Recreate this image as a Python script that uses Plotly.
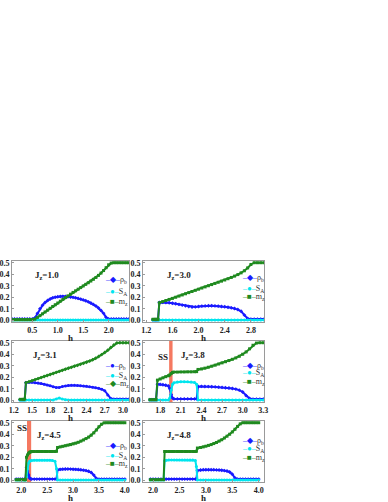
import plotly.graph_objects as go
from plotly.subplots import make_subplots

# ---- values ----
# panel 1: J_z = 1.0
h_1 = [0.10, 0.15, 0.20, 0.25, 0.30, 0.35, 0.40, 0.45, 0.50, 0.55, 0.60, 0.65, 0.70, 0.75, 0.80,
       0.85, 0.90, 0.95, 1.00, 1.05, 1.10, 1.15, 1.20, 1.25, 1.30, 1.35, 1.40, 1.45, 1.50, 1.55,
       1.60, 1.65, 1.70, 1.75, 1.80, 1.85, 1.90, 1.95, 2.00, 2.05, 2.10, 2.15, 2.20, 2.25, 2.30,
       2.35, 2.40]
rho_1 = [0.012, 0.012, 0.012, 0.012, 0.012, 0.012, 0.012, 0.012, 0.012, 0.02, 0.06, 0.10, 0.13,
         0.155, 0.172, 0.185, 0.195, 0.201, 0.205, 0.207, 0.208, 0.207, 0.205, 0.202, 0.199, 0.195,
         0.19, 0.184, 0.177, 0.169, 0.16, 0.15, 0.138, 0.124, 0.107, 0.086, 0.06, 0.025, 0.012,
         0.012, 0.012, 0.012, 0.012, 0.012, 0.012, 0.012, 0.012]
sa_1 = [0.003, 0.003, 0.003, 0.003, 0.003, 0.003, 0.003, 0.003, 0.003, 0.003, 0.003, 0.003, 0.003,
        0.003, 0.003, 0.003, 0.003, 0.003, 0.003, 0.003, 0.003, 0.003, 0.003, 0.003, 0.003, 0.003,
        0.003, 0.003, 0.003, 0.003, 0.003, 0.003, 0.003, 0.003, 0.003, 0.003, 0.003, 0.003, 0.003,
        0.003, 0.003, 0.003, 0.003, 0.003, 0.003, 0.003, 0.003]
mz_1 = [0.005, 0.005, 0.005, 0.005, 0.005, 0.005, 0.005, 0.005, 0.005, 0.01, 0.025, 0.04, 0.056,
        0.072, 0.088, 0.104, 0.12, 0.135, 0.15, 0.166, 0.182, 0.197, 0.212, 0.227, 0.242, 0.256,
        0.27, 0.284, 0.298, 0.312, 0.326, 0.341, 0.356, 0.372, 0.39, 0.41, 0.432, 0.457, 0.482,
        0.497, 0.5, 0.5, 0.5, 0.5, 0.5, 0.5, 0.5]

# panel 2: J_z = 3.0
h_2 = [1.30, 1.32, 1.34, 1.36, 1.38, 1.40, 1.45, 1.50, 1.55, 1.60, 1.65, 1.70, 1.75, 1.80, 1.85,
       1.90, 1.95, 2.00, 2.05, 2.10, 2.15, 2.20, 2.25, 2.30, 2.35, 2.40, 2.45, 2.50, 2.55, 2.60,
       2.65, 2.70, 2.75, 2.80, 2.85, 2.90, 2.95, 3.00]
rho_2 = [0.005, 0.005, 0.005, 0.005, 0.005, 0.155, 0.156, 0.155, 0.152, 0.148, 0.143, 0.138, 0.132,
         0.126, 0.12, 0.115, 0.116, 0.12, 0.123, 0.125, 0.126, 0.126, 0.125, 0.123, 0.12, 0.117,
         0.113, 0.108, 0.102, 0.093, 0.078, 0.045, 0.015, 0.01, 0.01, 0.01, 0.01, 0.01]
sa_2 = [0.003, 0.003, 0.003, 0.003, 0.003, 0.003, 0.003, 0.003, 0.003, 0.003, 0.003, 0.003, 0.003,
        0.003, 0.003, 0.003, 0.003, 0.003, 0.003, 0.003, 0.003, 0.003, 0.003, 0.003, 0.003, 0.003,
        0.003, 0.003, 0.003, 0.003, 0.003, 0.003, 0.003, 0.003, 0.003, 0.003, 0.003, 0.003]
mz_2 = [0.008, 0.008, 0.008, 0.008, 0.008, 0.152, 0.162, 0.172, 0.181, 0.19, 0.2, 0.21, 0.22,
        0.23, 0.24, 0.25, 0.26, 0.27, 0.28, 0.29, 0.3, 0.31, 0.32, 0.33, 0.34, 0.35, 0.361, 0.372,
        0.384, 0.397, 0.412, 0.43, 0.455, 0.485, 0.5, 0.5, 0.5, 0.5]

# panel 3: J_z = 3.1
h_3 = [1.30, 1.32, 1.34, 1.36, 1.38, 1.40, 1.45, 1.50, 1.55, 1.60, 1.65, 1.70, 1.75, 1.80, 1.85,
       1.90, 1.95, 2.00, 2.05, 2.10, 2.15, 2.20, 2.25, 2.30, 2.35, 2.40, 2.45, 2.50, 2.55, 2.60,
       2.65, 2.70, 2.75, 2.80, 2.85, 2.90, 2.95, 3.00, 3.05, 3.10]
rho_3 = [0.005, 0.005, 0.005, 0.005, 0.005, 0.155, 0.157, 0.156, 0.153, 0.15, 0.146, 0.14, 0.133,
         0.126, 0.118, 0.11, 0.112, 0.12, 0.125, 0.128, 0.13, 0.13, 0.128, 0.126, 0.124, 0.121,
         0.118, 0.114, 0.109, 0.104, 0.096, 0.083, 0.045, 0.015, 0.01, 0.01, 0.01, 0.01, 0.01, 0.01]
sa_3 = [0.003, 0.003, 0.003, 0.003, 0.003, 0.003, 0.003, 0.003, 0.003, 0.003, 0.003, 0.003, 0.003,
        0.003, 0.003, 0.012, 0.02, 0.01, 0.004, 0.003, 0.003, 0.003, 0.003, 0.003, 0.003, 0.003,
        0.003, 0.003, 0.003, 0.003, 0.003, 0.003, 0.003, 0.003, 0.003, 0.003, 0.003, 0.003, 0.003,
        0.003]
mz_3 = [0.008, 0.008, 0.008, 0.008, 0.008, 0.152, 0.161, 0.17, 0.179, 0.188, 0.197, 0.206, 0.215,
        0.224, 0.233, 0.242, 0.251, 0.26, 0.269, 0.278, 0.286, 0.295, 0.303, 0.312, 0.321, 0.33,
        0.34, 0.352, 0.365, 0.38, 0.397, 0.415, 0.435, 0.458, 0.48, 0.497, 0.5, 0.5, 0.5, 0.5]

# panel 4: J_z = 3.8
h_4 = [1.65, 1.68, 1.71, 1.74, 1.76, 1.80, 1.84, 1.88, 1.92, 1.94, 1.96, 1.98, 2.00, 2.05, 2.10,
       2.15, 2.20, 2.25, 2.30, 2.33, 2.35, 2.40, 2.45, 2.50, 2.55, 2.60, 2.65, 2.70, 2.75, 2.80,
       2.85, 2.90, 2.95, 3.00, 3.05, 3.10, 3.15, 3.20, 3.25, 3.30]
rho_4 = [0.005, 0.005, 0.005, 0.005, 0.14, 0.138, 0.135, 0.13, 0.124, 0.1, 0.05, 0.02, 0.012,
         0.012, 0.012, 0.012, 0.012, 0.012, 0.012, 0.012, 0.12, 0.121, 0.12, 0.119, 0.118, 0.116,
         0.114, 0.112, 0.109, 0.106, 0.102, 0.097, 0.088, 0.072, 0.04, 0.015, 0.01, 0.01, 0.01, 0.01]
sa_4 = [0.003, 0.003, 0.003, 0.003, 0.003, 0.003, 0.003, 0.003, 0.003, 0.02, 0.09, 0.14, 0.152,
        0.158, 0.16, 0.16, 0.16, 0.159, 0.155, 0.14, 0.003, 0.003, 0.003, 0.003, 0.003, 0.003,
        0.003, 0.003, 0.003, 0.003, 0.003, 0.003, 0.003, 0.003, 0.003, 0.003, 0.003, 0.003, 0.003,
        0.003]
mz_4 = [0.005, 0.005, 0.005, 0.005, 0.175, 0.185, 0.195, 0.205, 0.213, 0.22, 0.232, 0.242, 0.245,
        0.245, 0.246, 0.246, 0.247, 0.247, 0.248, 0.249, 0.268, 0.272, 0.279, 0.287, 0.296, 0.305,
        0.315, 0.325, 0.335, 0.345, 0.356, 0.368, 0.382, 0.4, 0.42, 0.447, 0.478, 0.497, 0.5, 0.5]

# panel 5: J_z = 4.5
h_5 = [1.90, 1.94, 1.98, 2.02, 2.06, 2.08, 2.10, 2.12, 2.14, 2.16, 2.18, 2.20, 2.25, 2.30, 2.35,
       2.40, 2.45, 2.50, 2.55, 2.60, 2.65, 2.68, 2.70, 2.75, 2.80, 2.85, 2.90, 2.95, 3.00, 3.05,
       3.10, 3.15, 3.20, 3.25, 3.30, 3.35, 3.40, 3.45, 3.50, 3.55, 3.60, 3.65, 3.70, 3.75, 3.80,
       3.85, 3.90, 3.95, 4.00]
rho_5 = [0.01, 0.01, 0.01, 0.01, 0.01, 0.01, 0.11, 0.08, 0.045, 0.02, 0.012, 0.01, 0.01, 0.01,
         0.01, 0.01, 0.01, 0.01, 0.01, 0.01, 0.01, 0.01, 0.092, 0.095, 0.097, 0.098, 0.098, 0.097,
         0.096, 0.095, 0.093, 0.091, 0.088, 0.084, 0.078, 0.068, 0.045, 0.015, 0.01, 0.01, 0.01,
         0.01, 0.01, 0.01, 0.01, 0.01, 0.01, 0.01, 0.01]
sa_5 = [0.003, 0.003, 0.003, 0.003, 0.003, 0.003, 0.03, 0.1, 0.15, 0.165, 0.17, 0.172, 0.174,
        0.175, 0.175, 0.175, 0.175, 0.175, 0.174, 0.172, 0.165, 0.1, 0.003, 0.003, 0.003, 0.003,
        0.003, 0.003, 0.003, 0.003, 0.003, 0.003, 0.003, 0.003, 0.003, 0.003, 0.003, 0.003, 0.003,
        0.003, 0.003, 0.003, 0.003, 0.003, 0.003, 0.003, 0.003, 0.003, 0.003]
mz_5 = [0.005, 0.005, 0.005, 0.005, 0.005, 0.005, 0.2, 0.22, 0.235, 0.243, 0.247, 0.25, 0.25,
        0.25, 0.25, 0.25, 0.25, 0.25, 0.25, 0.25, 0.25, 0.252, 0.285, 0.29, 0.295, 0.3, 0.305, 0.31,
        0.316, 0.322, 0.33, 0.34, 0.35, 0.362, 0.375, 0.392, 0.412, 0.437, 0.465, 0.487, 0.499,
        0.5, 0.5, 0.5, 0.5, 0.5, 0.5, 0.5, 0.5]

# panel 6: J_z = 4.8
h_6 = [1.95, 2.00, 2.05, 2.10, 2.15, 2.20, 2.22, 2.25, 2.30, 2.35, 2.40, 2.45, 2.50, 2.55, 2.60,
       2.65, 2.70, 2.75, 2.80, 2.82, 2.84, 2.90, 2.95, 3.00, 3.05, 3.10, 3.15, 3.20, 3.25, 3.30,
       3.35, 3.40, 3.45, 3.50, 3.55, 3.60, 3.65, 3.70, 3.75, 3.80, 3.85, 3.90, 3.95, 4.00]
rho_6 = [0.01, 0.01, 0.01, 0.01, 0.01, 0.01, 0.01, 0.01, 0.01, 0.01, 0.01, 0.01, 0.01, 0.01, 0.01,
         0.01, 0.01, 0.01, 0.01, 0.01, 0.085, 0.089, 0.091, 0.092, 0.092, 0.092, 0.091, 0.09,
         0.089, 0.087, 0.084, 0.08, 0.072, 0.052, 0.02, 0.01, 0.01, 0.01, 0.01, 0.01, 0.01, 0.01,
         0.01, 0.01]
sa_6 = [0.003, 0.003, 0.003, 0.003, 0.003, 0.003, 0.17, 0.175, 0.177, 0.177, 0.177, 0.177, 0.177,
        0.177, 0.177, 0.177, 0.177, 0.176, 0.172, 0.12, 0.003, 0.003, 0.003, 0.003, 0.003, 0.003,
        0.003, 0.003, 0.003, 0.003, 0.003, 0.003, 0.003, 0.003, 0.003, 0.003, 0.003, 0.003, 0.003,
        0.003, 0.003, 0.003, 0.003, 0.003]
mz_6 = [0.005, 0.005, 0.005, 0.005, 0.005, 0.005, 0.25, 0.25, 0.25, 0.25, 0.25, 0.25, 0.25, 0.25,
        0.25, 0.25, 0.25, 0.25, 0.25, 0.252, 0.28, 0.285, 0.29, 0.296, 0.303, 0.31, 0.319, 0.328,
        0.34, 0.352, 0.367, 0.383, 0.4, 0.42, 0.443, 0.468, 0.49, 0.5, 0.5, 0.5, 0.5, 0.5, 0.5, 0.5]

jz_values = ["1.0", "3.0", "3.1", "3.8", "4.5", "4.8"]
ss_band_4 = [1.93, 1.98]
ss_band_5 = [2.11, 2.19]
y_ticks = [0.0, 0.1, 0.2, 0.3, 0.4, 0.5]

# ---- styling ----
BLUE = "#1a1aff"
CYAN = "#00e5ee"
GREEN = "#1f8a1f"
SS_RED = "#f4694f"
FRAME = "#9a9a9a"
INK = "#222222"
SERIF = "Liberation Serif"

W, H = 388, 502
col_px = [(12, 129), (143, 264)]
row_px = [(261, 322), (341, 402), (421, 482)]

panels = [
    dict(h=h_1, rho=rho_1, sa=sa_1, mz=mz_1, xr=[0.1, 2.4], ticks=[0.5, 1.0, 1.5, 2.0],
         sym=("diamond", "circle", "square"), jz_at=(0.78, 0.385), key_x=0.78, key_y=(0.35, 0.25, 0.155)),
    dict(h=h_2, rho=rho_2, sa=sa_2, mz=mz_2, xr=[1.15, 3.0], ticks=[1.2, 1.6, 2.0, 2.4, 2.8],
         sym=("diamond", "circle", "square"), jz_at=(1.7, 0.385), key_x=0.8, key_y=(0.365, 0.27, 0.2)),
    dict(h=h_3, rho=rho_3, sa=sa_3, mz=mz_3, xr=[1.17, 3.1], ticks=[1.2, 1.5, 1.8, 2.1, 2.4, 2.7, 3.0],
         sym=("circle", "circle", "diamond"), jz_at=(1.72, 0.39), key_x=0.78, key_y=(0.3, 0.215, 0.14)),
    dict(h=h_4, rho=rho_4, sa=sa_4, mz=mz_4, xr=[1.55, 3.31], ticks=[1.8, 2.1, 2.4, 2.7, 3.0, 3.3],
         sym=("diamond", "circle", "square"), jz_at=(2.27, 0.385), key_x=0.8, key_y=(0.3, 0.235, 0.16)),
    dict(h=h_5, rho=rho_5, sa=sa_5, mz=mz_5, xr=[1.82, 4.08], ticks=[2.0, 2.5, 3.0, 3.5, 4.0],
         sym=("diamond", "circle", "square"), jz_at=(2.53, 0.385), key_x=0.78, key_y=(0.3, 0.215, 0.14)),
    dict(h=h_6, rho=rho_6, sa=sa_6, mz=mz_6, xr=[1.81, 4.1], ticks=[2.0, 2.5, 3.0, 3.5, 4.0],
         sym=("diamond", "circle", "square"), jz_at=(2.49, 0.385), key_x=0.8, key_y=(0.345, 0.27, 0.195)),
]

glyph = {"diamond": "◆", "circle": "●", "square": "■"}

fig = make_subplots(rows=3, cols=2)

for i, p in enumerate(panels):
    row, col = i // 2 + 1, i % 2 + 1
    series = [
        (p["rho"], BLUE, p["sym"][0], "ρ<sub>b</sub>"),
        (p["sa"], CYAN, p["sym"][1], "S<sub>A</sub>"),
        (p["mz"], GREEN, p["sym"][2], "m<sub>z</sub>"),
    ]
    for vals, color, sym, name in series:
        fig.add_trace(
            go.Scatter(
                x=p["h"], y=vals, mode="lines+markers", name=name, showlegend=False,
                line=dict(color=color, width=2),
                marker=dict(color=color, symbol=sym, size=3),
            ),
            row=row, col=col,
        )

    # small key inside each panel
    for (vals, color, sym, name), ky in zip(series, p["key_y"]):
        fig.add_annotation(
            x=p["key_x"], y=ky, xref="x domain", yref="y", row=row, col=col,
            text=f'<span style="color:{color}">–{glyph[sym]}–</span>{name}',
            showarrow=False, xanchor="left", yanchor="middle",
            font=dict(family=SERIF, size=8, color="#333333"),
        )

    fig.add_annotation(
        x=p["jz_at"][0], y=p["jz_at"][1], row=row, col=col,
        text="J<sub>z</sub>=" + jz_values[i], showarrow=False,
        font=dict(family=SERIF, size=9, color=INK, weight="bold"),
    )

    # axis title "h" under each panel
    fig.add_annotation(
        x=0.5, y=-0.27, xref="x domain", yref="y domain", row=row, col=col,
        text="h", showarrow=False, yanchor="middle",
        font=dict(family=SERIF, size=9, color=INK, weight="bold"),
    )

    x0, x1 = col_px[col - 1]
    y0, y1 = row_px[row - 1]
    fig.update_xaxes(
        domain=[x0 / W, x1 / W], range=p["xr"], tickvals=p["ticks"], tickformat=".1f",
        row=row, col=col,
    )
    fig.update_yaxes(
        domain=[1 - y1 / H, 1 - y0 / H], range=[-0.015, 0.515], tickvals=y_ticks,
        tickformat=".1f", row=row, col=col,
    )

# spin-supersolid windows
for band, row, col, tx, ty in [(ss_band_4, 2, 2, 1.835, 0.38), (ss_band_5, 3, 1, 2.01, 0.45)]:
    fig.add_vrect(x0=band[0], x1=band[1], row=row, col=col, fillcolor=SS_RED, opacity=0.9,
                  line_width=0, layer="below")
    fig.add_annotation(x=tx, y=ty, row=row, col=col, text="SS", showarrow=False,
                       font=dict(family=SERIF, size=9, color=INK, weight="bold"))

axis_style = dict(
    showline=True, linecolor=FRAME, linewidth=1, mirror=True, ticks="inside", ticklen=2,
    tickcolor=FRAME, showgrid=False, zeroline=False, automargin=False,
    tickfont=dict(family=SERIF, size=8, color=INK, weight="bold"),
)
fig.update_xaxes(**axis_style)
fig.update_yaxes(**axis_style)

fig.update_layout(
    width=W, height=H, margin=dict(l=0, r=0, t=0, b=0),
    plot_bgcolor="white", paper_bgcolor="white", showlegend=False,
)

# drop the browser's default 8px body margin so the figure sits at the page corner
fig.write_html(
    "out.html",
    config={"displayModeBar": False},
    post_script="document.body.style.margin = '0';",
)
